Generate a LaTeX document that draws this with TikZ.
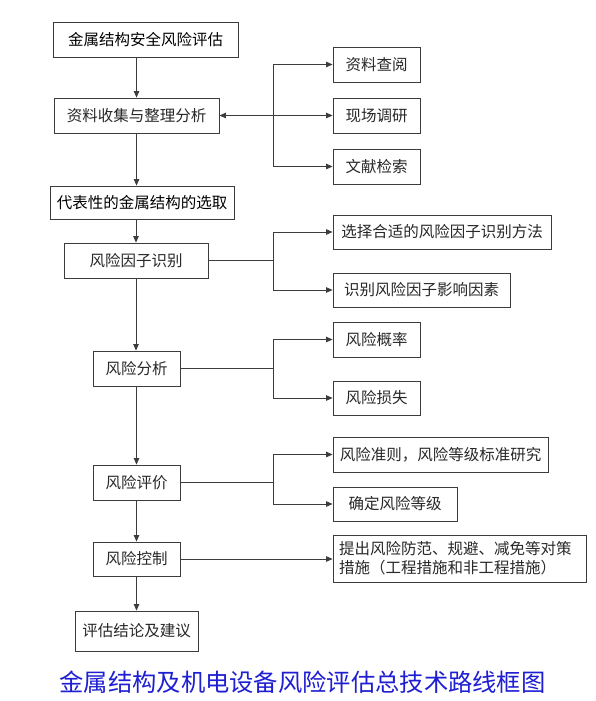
\documentclass[tikz,border=0pt]{standalone}
\usepackage{fontspec}
\newfontfamily\cjk{Noto Sans CJK SC}
\usetikzlibrary{arrows.meta}
\definecolor{capblue}{RGB}{30,30,210}
\definecolor{linegray}{RGB}{60,60,60}
\definecolor{txtgray}{RGB}{40,40,40}
\begin{document}
\begin{tikzpicture}[x=1pt,y=-1pt,
  box/.style={draw=linegray, line width=0.9pt, inner sep=0pt, minimum height=35pt,
    text=txtgray, font=\cjk\fontsize{15.5}{18}\selectfont},
  conn/.style={draw=linegray, line width=0.8pt},
  arr/.style={conn, -{Triangle[length=6.5pt,width=5.5pt]}},
  darr/.style={conn, {Triangle[length=6.5pt,width=5.5pt]}-{Triangle[length=6.5pt,width=5.5pt]}}]
\fill[white] (0,0) rectangle (596,701);
\useasboundingbox (0,0) rectangle (596,701);
% main column
\node[box, minimum width=185pt, text=black] (t1) at (145.5,39.5) {金属结构安全风险评估};
\node[box, minimum width=165pt] (t2) at (136.5,115.5) {资料收集与整理分析};
\node[box, minimum width=184pt, minimum height=33pt, text=black] (t3) at (142,202.5) {代表性的金属结构的选取};
\node[box, minimum width=144pt] (t4) at (136,260.5) {风险因子识别};
\node[box, minimum width=87pt] (t5) at (136.5,368.5) {风险分析};
\node[box, minimum width=87pt] (t6) at (136.5,482.5) {风险评价};
\node[box, minimum width=87pt, minimum height=34pt] (t7) at (136.5,559) {风险控制};
\node[box, minimum width=123pt, minimum height=40pt] (t8) at (136.5,631) {评估结论及建议};
% right column
\node[box, minimum width=87pt] (r1) at (376.5,64.5) {资料查阅};
\node[box, minimum width=87pt] (r2) at (376.5,115.5) {现场调研};
\node[box, minimum width=87pt] (r3) at (376.5,166.5) {文献检索};
\node[box, minimum width=218pt, minimum height=34pt] (r4) at (442,232) {选择合适的风险因子识别方法};
\node[box, minimum width=177pt, minimum height=34pt] (r5) at (421.5,290) {识别风险因子影响因素};
\node[box, minimum width=87pt] (r6) at (376.5,339.5) {风险概率};
\node[box, minimum width=87pt, minimum height=34pt] (r7) at (376.5,398) {风险损失};
\node[box, minimum width=215pt] (r8) at (440.5,454.5) {风险准则，风险等级标准研究};
\node[box, minimum width=124pt, minimum height=34pt] (r9) at (395,504) {确定风险等级};
\node[box, minimum height=47pt, text width=241pt, inner xsep=6pt, align=left,
  font=\cjk\fontsize{15.5}{19}\selectfont] (r10) at (459.5,558.5)
  {提出风险防范、规避、减免等对策\\措施（工程措施和非工程措施）};
% caption
\node[text=capblue, inner sep=0pt, font=\cjk\fontsize{24.3}{28}\selectfont] (cap) at (302.5,682)
  {金属结构及机电设备风险评估总技术路线框图};
% junctions
\coordinate (j1) at (273,115.5);
\coordinate (j2) at (273,260.5);
\coordinate (j3) at (273,368.5);
\coordinate (j4) at (273,482.5);
% main arrows
\draw[arr] (t1.south -| t2.north) -- (t2.north);
\draw[arr] (t2.south) -- (t2.south |- t3.north);
\draw[arr] (t3.south -| t4.north) -- (t4.north);
\draw[arr] (t4.south) -- (t4.south |- t5.north);
\draw[arr] (t5.south) -- (t6.north);
\draw[arr] (t6.south) -- (t7.north);
\draw[arr] (t7.south) -- (t8.north);
% branches
\draw[darr] (t2.east) -- (r2.west);
\draw[arr] (j1) |- (r1.west);
\draw[arr] (j1) |- (r3.west);
\draw[conn] (t4.east) -- (j2);
\draw[arr] (j2) |- (r4.west);
\draw[arr] (j2) |- (r5.west);
\draw[conn] (t5.east) -- (j3);
\draw[arr] (j3) |- (r6.west);
\draw[arr] (j3) |- (r7.west);
\draw[conn] (t6.east) -- (j4);
\draw[arr] (j4) |- (r8.west);
\draw[arr] (j4) |- (r9.west);
\draw[arr] (t7.east) -- (t7.east -| r10.west);
\end{tikzpicture}
\end{document}
